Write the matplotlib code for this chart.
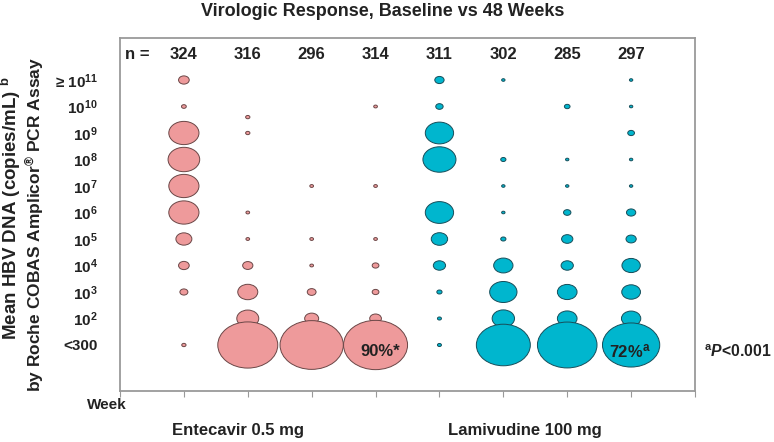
import numpy as np
import matplotlib
matplotlib.use('Agg')
import matplotlib.pyplot as plt
from matplotlib.path import Path
from matplotlib.transforms import Affine2D

plt.rcParams['font.family'] = ['Liberation Sans', 'DejaVu Sans']
plt.rcParams['mathtext.fontset'] = 'custom'
plt.rcParams['mathtext.rm'] = 'Liberation Sans:bold'
plt.rcParams['mathtext.bf'] = 'Liberation Sans:bold'
plt.rcParams['mathtext.it'] = 'Liberation Sans:italic:bold'

# rows, top to bottom: >=10^11 ... 10^2, <300
levels = [10, 9, 8, 7, 6, 5, 4, 3, 2, 1, 0]
row_labels = [r'≥ $10^{11}$', r'$10^{10}$', r'$10^{9}$', r'$10^{8}$', r'$10^{7}$',
              r'$10^{6}$', r'$10^{5}$', r'$10^{4}$', r'$10^{3}$', r'$10^{2}$', '<300']

n_values = [324, 316, 296, 314, 311, 302, 285, 297]

# % of patients in each row
etv_c1 = [2.5, 0.5, 20, 22, 20, 20, 5.6, 2.5, 1.4, 0, 0.4]
etv_c2 = [0, 0.4, 0.4, 0, 0, 0.3, 0.3, 2.3, 8.8, 10.6, 79]
etv_c3 = [0, 0, 0, 0, 0.3, 0, 0.3, 0.3, 1.7, 4.3, 88]
etv_c4 = [0, 0.3, 0, 0, 0.3, 0, 0.3, 1.0, 1.0, 3.0, 90]
lvd_c1 = [1.9, 1.2, 17.6, 24, 0, 17.6, 5.9, 3.3, 0.6, 0.35, 0.35]
lvd_c2 = [0.25, 0, 0, 0.6, 0.25, 0.25, 0.6, 8.2, 16.4, 11, 64]
lvd_c3 = [0, 0.7, 0, 0.25, 0.25, 1.2, 2.8, 3.3, 8.5, 8.5, 78]
lvd_c4 = [0.25, 0.25, 1.0, 0.25, 0.25, 1.9, 2.3, 7.4, 7.7, 8.2, 72]

# the second ETV column has its upper dot drawn between rows
etv_c2_levels = [10, 8.6, 8, 7, 6, 5, 4, 3, 2, 1, 0]

columns = [etv_c1, etv_c2, etv_c3, etv_c4, lvd_c1, lvd_c2, lvd_c3, lvd_c4]
col_levels = [levels, etv_c2_levels] + [levels] * 6

pink, pink_edge = '#EE9A9B', '#6A4646'
cyan, cyan_edge = '#00B6CE', '#174E5A'
txt = '#222222'

fig = plt.figure(figsize=(7.74, 4.42), dpi=100)
ax = fig.add_axes([120 / 774, 1 - 391 / 442, 575 / 774, 353 / 442])

ellipse = Affine2D().scale(1, 0.77).transform_path(Path.unit_circle())

px_per_pt = 100 / 72
w90 = 64  # px width of a 90% bubble

for i, (vals, lv) in enumerate(zip(columns, col_levels)):
    x = i + 1
    vals = np.array(vals, dtype=float)
    lv = np.array(lv, dtype=float)
    keep = vals > 0
    widths = w90 * np.sqrt(vals[keep] / 90) / px_per_pt
    fc, ec = (pink, pink_edge) if i < 4 else (cyan, cyan_edge)
    ax.scatter(np.full(keep.sum(), x), lv[keep], s=widths ** 2, marker=ellipse,
               facecolor=fc, edgecolor=ec, linewidth=0.7, zorder=3)

# n row
ax.text(0.27, 10.95, 'n =', ha='center', va='center', fontsize=12,
        fontweight='bold', color=txt)
for i, n in enumerate(n_values):
    ax.text(i + 1, 10.95, str(n), ha='center', va='center', fontsize=12,
            fontweight='bold', color=txt)

ax.text(4.08, -0.25, '90%*', ha='center', va='center', fontsize=12,
        fontweight='bold', color=txt, zorder=5)
ax.text(7.98, -0.25, r'72%$^{\mathbf{a}}$', ha='center', va='center', fontsize=12,
        fontweight='bold', color=txt, zorder=5)

ax.set_xlim(0, 9)
ax.set_ylim(-1.736, 11.585)
ax.set_xticks(range(10))
ax.set_xticklabels([])
ax.tick_params(axis='x', length=4, color='#999999', width=0.8)
ax.set_yticks(levels)
ax.set_yticklabels(row_labels, fontsize=11, fontweight='bold', color=txt)
ax.tick_params(axis='y', length=0, pad=16)
for sp in ax.spines.values():
    sp.set_color('#9a9a9a')
    sp.set_linewidth(1.3)

fig.text(383 / 774, 1 - 11 / 442, 'Virologic Response, Baseline vs 48 Weeks',
         ha='center', va='center', fontsize=13, fontweight='bold', color=txt)
fig.text(11 / 774, 1 - 208 / 442, r'Mean HBV DNA (copies/mL) $^{\mathbf{b}}$',
         rotation=90, ha='center', va='center', fontsize=13.5, fontweight='bold',
         color=txt)
fig.text(35 / 774, 1 - 225 / 442, r'by Roche COBAS Amplicor$^{\mathbf{®}}$ PCR Assay',
         rotation=90, ha='center', va='center', fontsize=12.5, fontweight='bold',
         color=txt)
fig.text(107 / 774, 1 - 405 / 442, 'Week', ha='center', va='center', fontsize=11,
         fontweight='bold', color=txt)
fig.text(238 / 774, 1 - 430 / 442, 'Entecavir 0.5 mg', ha='center', va='center',
         fontsize=12, fontweight='bold', color=txt)
fig.text(525 / 774, 1 - 430 / 442, 'Lamivudine 100 mg', ha='center', va='center',
         fontsize=12, fontweight='bold', color=txt)
fig.text(704 / 774, 1 - 352 / 442, r'$^{\mathbf{a}}\mathit{P}$<0.001', ha='left',
         va='center', fontsize=11.3, fontweight='bold', color=txt)

fig.savefig('out.png', dpi=100)
